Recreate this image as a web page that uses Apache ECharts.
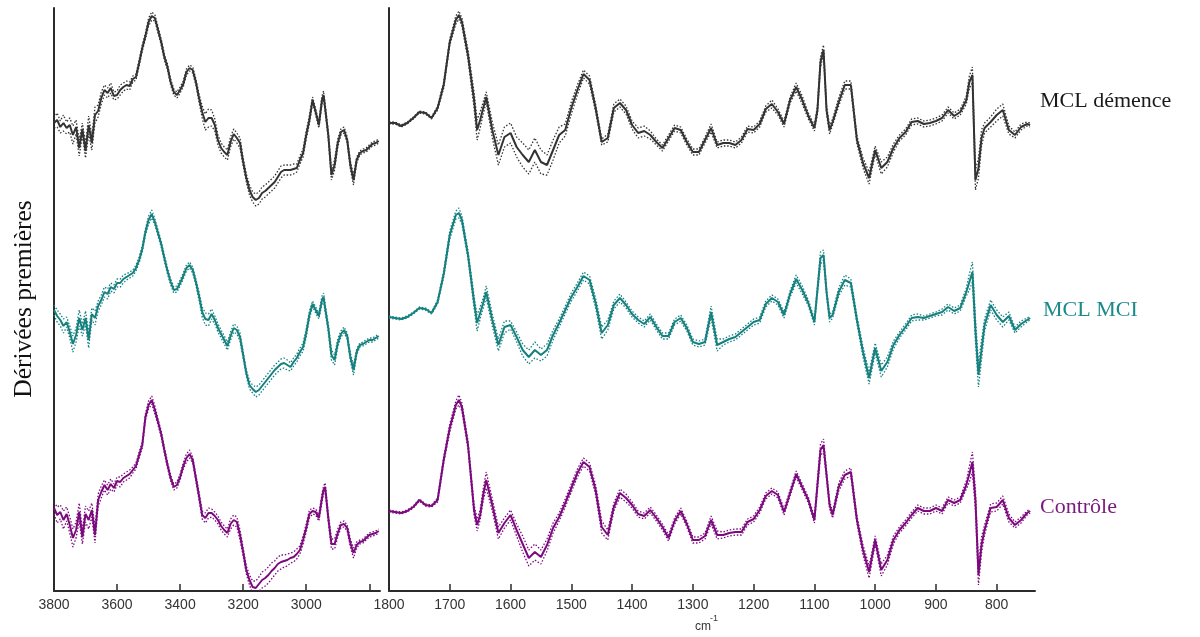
<!DOCTYPE html>
<html><head><meta charset="utf-8">
<script src="https://cdn.jsdelivr.net/npm/echarts@6/dist/echarts.min.js"></script>
<style>html,body{margin:0;padding:0;background:#fff}#c{width:1200px;height:637px}</style>
</head><body><div id="c"></div>
<script>
// ---- data ----
const groupNames = ['MCL démence', 'MCL MCI', 'Contrôle'];
const groupOffsets = [388, 195, 0];   // vertical stacking offsets (a.u.)

const highTicks = [3800, 3600, 3400, 3200, 3000, 2800];
const highLabels = [3800, 3600, 3400, 3200, 3000];
const lowTicks = [1800, 1700, 1600, 1500, 1400, 1300, 1200, 1100, 1000, 900, 800];

const wnHigh = [3800,3790,3780,3770,3760,3750,3740,3730,3720,3710,3700,3690,3680,3670,3660,3650,3640,3630,3620,3610,3600,3590,3580,3570,3560,3550,3540,3530,3520,3510,3500,3490,3480,3470,3460,3450,3440,3430,3420,3410,3400,3390,3380,3370,3360,3350,3340,3330,3320,3310,3300,3290,3280,3270,3260,3250,3240,3230,3220,3210,3200,3190,3180,3170,3160,3150,3140,3130,3120,3110,3100,3090,3080,3070,3060,3050,3040,3030,3020,3010,3000,2990,2980,2970,2960,2950,2945,2940,2930,2920,2910,2900,2890,2880,2870,2860,2850,2840,2830,2820,2810,2800,2790,2780,2770];

const wnLow = [1800,1790,1780,1770,1760,1750,1740,1730,1720,1710,1700,1690,1685,1680,1670,1660,1655,1650,1645,1640,1630,1620,1610,1600,1590,1580,1570,1560,1550,1540,1530,1520,1510,1500,1490,1480,1470,1460,1450,1440,1430,1420,1410,1400,1390,1380,1370,1360,1350,1340,1330,1320,1310,1300,1290,1280,1270,1260,1250,1240,1230,1220,1210,1200,1190,1180,1170,1160,1150,1140,1130,1120,1110,1100,1095,1090,1085,1080,1075,1070,1060,1050,1040,1030,1020,1010,1000,990,980,970,960,950,940,930,920,910,900,890,880,870,860,850,845,840,835,830,825,820,810,800,790,780,770,760,750,745];

// first derivative (a.u.), high wavenumber region
const demenceHigh = [0,3,-4,0,-5,-2,-12,-4,-25,-6, -28,-2,-20,8,12,25,33,30,35,27, 28,33,36,38,37,44,46,60,75,87, 101,107,105,93,81,66,56,41,31,28, 33,39,51,55,53,41,25,11,1,5, 5,-2,-17,-25,-29,-32,-19,-11,-15,-20, -39,-55,-67,-74,-77,-75,-70,-68,-65,-62, -59,-54,-49,-47,-47,-47,-46,-45,-37,-30, -12,3,23,11,-2,23,28,15,-12,-52, -42,-20,-9,-7,-17,-42,-57,-37,-30,-28, -27,-24,-21,-20,-18];
const demenceHighSd = [5,7,6,8,6,7,9,7,8,6, 7,9,7,8,6,6,5,5,5,4, 4,5,4,4,4,3,3,3,3,3, 4,4,3,3,3,3,3,3,3,3, 3,3,3,3,3,3,4,6,8,9, 8,6,5,5,5,5,5,5,5,5, 4,4,5,5,6,6,6,6,6,6, 6,6,6,5,5,5,5,4,4,4, 4,4,3,3,3,4,4,4,4,5, 5,4,3,3,3,4,5,3,2,2, 2,2,2,2,2];

const mciHigh = [6,0,-4,-10,-6,-16,-28,-19,-2,-14, -2,-24,2,-2,10,16,24,22,29,27, 33,33,37,39,41,43,48,56,67,84, 96,102,94,83,72,58,45,34,26,27, 33,40,48,51,46,34,20,4,-3,-4, 2,-4,-12,-18,-24,-30,-20,-12,-14,-21, -39,-57,-69,-73,-76,-74,-70,-66,-62,-58, -54,-51,-48,-47,-49,-51,-46,-42,-36,-31, -17,1,12,6,0,16,19,8,-12,-39, -44,-27,-18,-14,-20,-41,-54,-36,-29,-28, -26,-24,-24,-22,-20];
const mciHighSd = [5,6,6,7,5,6,8,7,8,6, 7,8,6,7,5,5,5,5,4,4, 4,4,4,3,3,3,3,3,3,3, 4,4,3,3,3,3,3,3,3,3, 3,3,3,3,3,3,4,5,6,6, 5,4,4,4,4,4,4,4,4,4, 3,3,4,4,5,5,5,5,5,5, 5,5,5,5,5,4,4,4,4,4, 4,4,3,3,3,4,4,4,4,5, 5,4,3,3,3,4,5,3,2,2, 2,2,2,2,2];

const controleHigh = [3,-4,-1,-9,-3,-14,-27,-19,-1,-26, -3,-9,1,-24,11,19,26,21,27,23, 30,29,33,35,37,41,45,56,66,94, 106,111,101,89,77,61,46,33,24,26, 34,45,53,57,51,33,15,-4,-7,-2, -2,-5,-9,-15,-19,-22,-13,-9,-11,-24, -41,-59,-69,-76,-77,-73,-69,-67,-64,-60, -57,-53,-51,-50,-49,-47,-46,-43,-39,-29, -17,-3,0,-1,-7,13,21,24,-7,-33, -33,-22,-14,-13,-17,-32,-42,-34,-31,-30, -27,-24,-23,-22,-20];
const controleHighSd = [6,8,7,9,7,8,9,8,9,7, 8,9,7,8,6,6,5,5,5,4, 4,5,4,4,4,3,3,3,3,3, 4,4,4,3,3,3,3,3,3,3, 3,3,4,4,3,3,4,4,5,5, 4,4,4,4,4,4,5,5,5,5, 4,4,5,6,7,7,8,8,8,8, 7,7,7,6,6,5,5,5,4,4, 4,4,3,3,3,4,4,4,4,5, 5,4,3,3,3,4,5,3,2,2, 2,2,2,2,2];

// first derivative (a.u.), fingerprint region
const demenceLow = [0,0,-3,0,5,11,10,5,15,38, 81,103,108,101,68,23,-7,3,15,26, -7,-32,-14,-10,-24,-32,-39,-27,-39,-42, -27,-12,-7,15,33,49,43,15,-19,-15, 15,20,13,-2,-10,-8,-12,-19,-25,-15, -5,-7,-19,-29,-29,-17,-5,-22,-20,-20, -22,-17,-6,-7,-1,14,19,11,-1,23, 36,23,7,-5,13,61,73,13,-7,1, 21,38,38,-17,-40,-55,-27,-45,-39,-25, -15,-9,1,2,-1,0,2,5,13,7, 11,23,41,48,-57,-45,-15,-5,1,8, 13,-7,-12,-4,-1,-2];
const demenceLowSd = [1,1,1,1,1,1,1,1,2,3, 3,4,4,4,5,8,10,8,6,5, 8,10,10,10,10,12,12,12,12,10, 10,8,6,6,5,4,4,4,3,4, 4,4,4,4,5,5,4,3,3,3, 3,3,3,3,3,3,4,3,3,3, 3,3,3,3,3,3,4,3,3,3, 4,4,3,3,4,5,5,4,4,3, 4,4,4,4,5,6,4,6,5,4, 3,3,3,3,3,3,3,3,3,3, 3,4,6,8,10,10,8,5,5,6, 6,4,3,3,2,2];

const mciLow = [-1,-2,-3,-1,3,8,7,3,14,42, 81,101,103,96,61,14,-7,3,13,24, -4,-29,-11,-9,-21,-34,-41,-34,-39,-34, -19,-7,6,19,29,40,36,13,-17,-9, 11,18,11,2,-4,-8,-1,-11,-20,-20, -6,-2,-12,-26,-28,-26,4,-29,-26,-23, -21,-16,-11,-6,-4,12,18,14,1,22, 37,26,13,-6,26,58,61,24,-2,1, 24,36,33,-4,-36,-62,-32,-55,-46,-29, -19,-11,-2,-1,-2,0,2,4,9,5, 8,24,34,44,-14,-59,-34,-9,11,1, -6,0,-14,-8,-4,-2];
const mciLowSd = [1,1,1,1,1,1,1,1,2,3, 4,4,5,4,4,6,8,6,5,6, 6,6,6,4,5,6,7,8,6,6, 5,4,4,4,4,4,4,5,6,5, 4,4,3,3,3,3,3,3,3,3, 3,3,3,3,3,3,6,6,3,3, 3,3,3,3,3,3,3,3,3,3, 4,4,3,3,4,6,5,4,4,3, 4,5,4,4,5,6,5,6,5,4, 3,3,3,3,2,2,2,3,3,3, 3,4,8,10,12,12,10,6,5,5, 5,4,3,3,2,2];

const controleLow = [0,-1,-2,0,4,11,6,5,11,51, 83,106,111,104,66,1,-14,-4,16,31, 6,-22,-12,-4,-19,-33,-47,-41,-46,-34, -17,-6,8,23,38,49,44,21,-16,-24, 4,18,13,6,-3,-5,1,-7,-16,-27, -10,0,-13,-29,-29,-25,-9,-24,-24,-22, -21,-21,-11,-8,1,15,20,16,-1,18, 37,24,11,-9,26,61,66,36,6,-4, 24,36,39,-9,-39,-61,-29,-59,-49,-29, -19,-12,-4,3,0,0,3,0,11,8, 11,26,37,49,11,-64,-34,-19,3,4, 11,-7,-14,-9,-2,0];
const controleLowSd = [1,1,1,1,1,1,1,1,2,3, 4,4,5,4,4,5,6,5,6,8, 6,6,5,5,6,8,8,8,7,6, 5,4,4,4,4,4,4,5,6,5, 4,4,4,3,3,3,3,3,3,3, 3,3,3,3,3,3,4,4,3,3, 3,3,3,3,3,3,3,3,3,3, 3,3,3,3,5,6,6,4,4,3, 4,4,4,4,5,6,4,6,5,4, 3,3,3,3,3,3,3,3,3,3, 3,4,8,10,10,10,8,5,4,4, 4,4,3,3,2,2];

// ---- styling ----
const groupColors = ['#333333', '#14807f', '#7c0a7e'];
const labelColors = ['#1a1a1a', '#1a8a8a', '#7a1a7c'];
const axisColor = '#2b2b2b';

const highData = [[demenceHigh, demenceHighSd], [mciHigh, mciHighSd], [controleHigh, controleHighSd]];
const lowData = [[demenceLow, demenceLowSd], [mciLow, mciLowSd], [controleLow, controleLowSd]];

const series = [];
function addSeries(panel, x, mean, sd, gi) {
  const off = groupOffsets[gi];
  const base = {type: 'line', xAxisIndex: panel, yAxisIndex: panel, symbol: 'none', silent: true, animation: false, clip: true};
  const dotted = {color: groupColors[gi], width: 1.3, type: [1.5, 1.8]};
  series.push(Object.assign({}, base, {name: groupNames[gi] + ' +', z: 2,
    data: x.map((w, i) => [w, off + mean[i] + sd[i]]), lineStyle: dotted}));
  series.push(Object.assign({}, base, {name: groupNames[gi] + ' -', z: 2,
    data: x.map((w, i) => [w, off + mean[i] - sd[i]]), lineStyle: dotted}));
  series.push(Object.assign({}, base, {name: groupNames[gi], z: 3,
    data: x.map((w, i) => [w, off + mean[i]]),
    lineStyle: {color: groupColors[gi], width: 2}}));
}
highData.forEach((d, gi) => addSeries(0, wnHigh, d[0], d[1], gi));
lowData.forEach((d, gi) => addSeries(1, wnLow, d[0], d[1], gi));

const tickFont = {color: '#333', fontSize: 14, fontFamily: '"Liberation Sans", Arial, sans-serif', margin: 7,
  formatter: function (v) { return String(v); }};
function xAxisDef(gi, min, max, ticks, labels) {
  return {
    type: 'value', gridIndex: gi, inverse: true, min: min, max: max,
    axisLine: {show: true, onZero: false, lineStyle: {color: axisColor, width: 2}},
    axisTick: {show: true, inside: true, length: 7, customValues: ticks, lineStyle: {color: axisColor, width: 1.5}},
    axisLabel: Object.assign({customValues: labels, showMinLabel: true, showMaxLabel: true}, tickFont),
    splitLine: {show: false}
  };
}
function yAxisDef(gi) {
  return {
    type: 'value', gridIndex: gi, min: -80, max: 503,
    axisLine: {show: true, onZero: false, lineStyle: {color: axisColor, width: 2}},
    axisTick: {show: false}, axisLabel: {show: false}, splitLine: {show: false}
  };
}

const option = {
  backgroundColor: '#ffffff',
  animation: false,
  grid: [
    {left: 54, top: 8, width: 326, height: 583},
    {left: 389, top: 8, width: 646, height: 583}
  ],
  xAxis: [xAxisDef(0, 2766, 3800, highTicks, highLabels), xAxisDef(1, 737, 1800, lowTicks, lowTicks)],
  yAxis: [yAxisDef(0), yAxisDef(1)],
  series: series,
  graphic: [
    {type: 'text', left: 1040, top: 90, style: {text: groupNames[0], font: '22px "Liberation Serif", serif', fill: labelColors[0]}},
    {type: 'text', left: 1043, top: 299, style: {text: groupNames[1], font: '22px "Liberation Serif", serif', fill: labelColors[1]}},
    {type: 'text', left: 1040, top: 496, style: {text: groupNames[2], font: '22px "Liberation Serif", serif', fill: labelColors[2]}},
    {type: 'text', x: 24, y: 299, rotation: Math.PI / 2,
      style: {text: 'Dérivées premières', font: '25.5px "Liberation Serif", serif', fill: '#111', align: 'center', verticalAlign: 'middle'}},
    {type: 'text', left: 695, top: 621, style: {text: 'cm', font: '12px "Liberation Sans", Arial, sans-serif', fill: '#333'}},
    {type: 'text', left: 710, top: 614, style: {text: '-1', font: '9px "Liberation Sans", Arial, sans-serif', fill: '#333'}}
  ]
};
const chart = echarts.init(document.getElementById('c'), null, {renderer: 'canvas'});
chart.setOption(option);
</script>
</body></html>
